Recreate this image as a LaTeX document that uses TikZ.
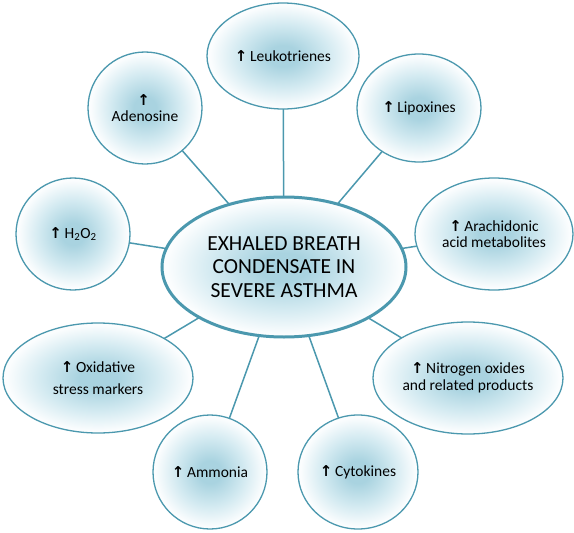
\documentclass[tikz,border=0pt]{standalone}
\usepackage{fontspec}
\setmainfont{Carlito}
\newfontfamily\arrfont{DejaVu Sans}
\usetikzlibrary{shapes.geometric,backgrounds}
\definecolor{edgec}{HTML}{4B98AE}
\definecolor{inC}{HTML}{A9D3E0}
\definecolor{midC}{HTML}{D3EAF1}
\definecolor{outC}{HTML}{FBFDFE}
\pgfdeclareradialshading{bub}{\pgfpoint{0bp}{0bp}}{color(0bp)=(inC); color(5bp)=(inC); color(15bp)=(midC); color(24bp)=(outC); color(50bp)=(outC)}
\newcommand{\up}{{\arrfont\bfseries\fontsize{15}{15}\selectfont ↑}\,}
\tikzset{
  bubble/.style={ellipse, draw=edgec, line width=1.3pt, shading=bub, inner sep=0pt, align=center,
    font=\fontsize{15.5}{16.5}\selectfont},
  hub/.style={bubble, line width=3pt, font=\fontsize{21.5}{23.5}\selectfont},
  link/.style={draw=edgec, line width=1.5pt}
}
\begin{document}
\begin{tikzpicture}[x=1pt,y=-1pt]
\useasboundingbox (0,0) rectangle (574,533);
\node[hub, minimum width=244, minimum height=140] (c) at (284,267) {EXHALED BREATH\\CONDENSATE IN\\SEVERE ASTHMA};
\node[bubble, minimum width=152, minimum height=106] (leu) at (283,56) {\up Leukotrienes};
\node[bubble, minimum width=114, minimum height=112] (ade) at (145,108) {\up\\Adenosine};
\node[bubble, minimum width=124, minimum height=108] (lip) at (419,108) {\up Lipoxines};
\node[bubble, minimum width=158, minimum height=112] (ara) at (494,234) {\up Arachidonic\\acid metabolites};
\node[bubble, minimum width=114, minimum height=112] (h2o2) at (73,234) {\up H\textsubscript{2}O\textsubscript{2}};
\node[bubble, minimum width=190, minimum height=110, font=\fontsize{15.5}{22}\selectfont] (oxi) at (98,378) {\up Oxidative\\stress markers};
\node[bubble, minimum width=190, minimum height=112] (nit) at (468,378) {\up Nitrogen oxides\\and related products};
\node[bubble, minimum width=114, minimum height=114] (amm) at (210,472) {\up Ammonia};
\node[bubble, minimum width=120, minimum height=114] (cyt) at (358,472) {\up Cytokines};
\begin{pgfonlayer}{background}
\foreach \n in {leu,ade,lip,ara,h2o2,oxi,nit,amm,cyt}
  \draw[link] (c.center) -- (\n.center);
\end{pgfonlayer}
\end{tikzpicture}
\end{document}
